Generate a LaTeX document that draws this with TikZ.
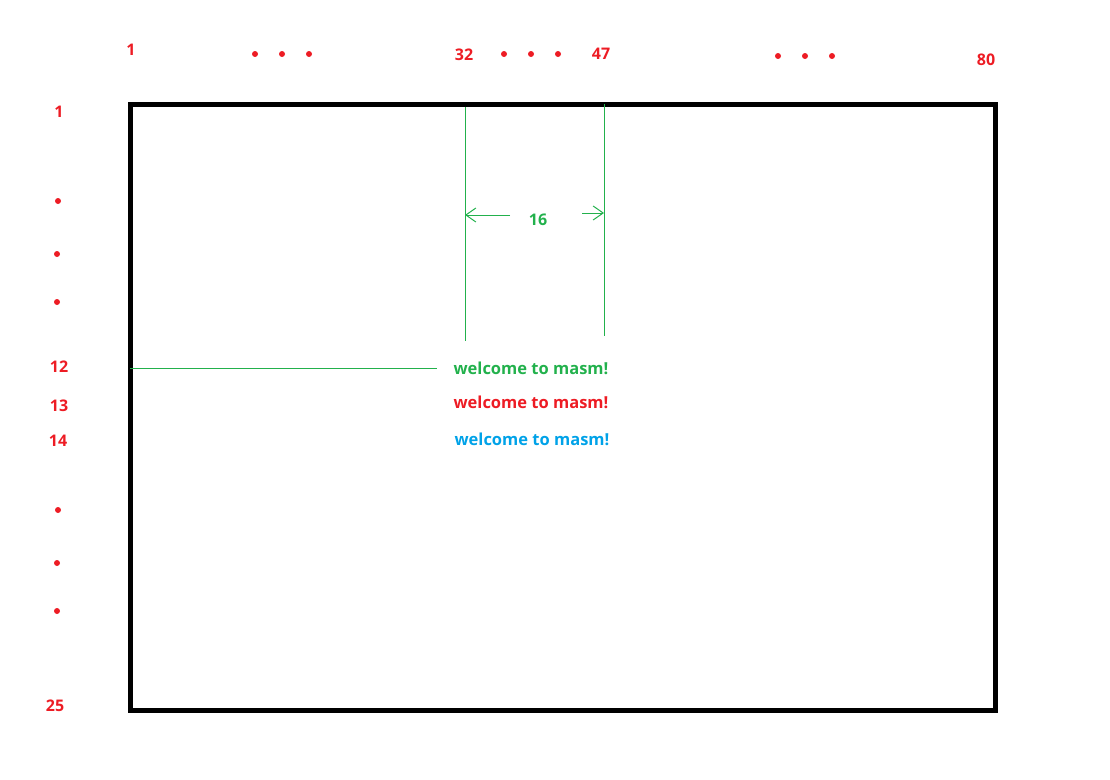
\documentclass[tikz,border=0pt]{standalone}
\usepackage{fontspec}
\setmainfont{Open Sans}
\usetikzlibrary{arrows.meta,positioning}
\definecolor{pred}{HTML}{ED1C24}
\definecolor{pgreen}{HTML}{22B14C}
\definecolor{pblue}{HTML}{00A2E8}
\tikzset{
  numlbl/.style={text=pred,font=\fontsize{16}{19}\selectfont\bfseries,inner sep=0pt},
  dotpt/.style={circle,fill=pred,inner sep=0pt,minimum size=6pt},
  msgtxt/.style={font=\fontsize{16.5}{20}\selectfont\bfseries,inner sep=0pt},
  guide/.style={draw=pgreen,line width=1pt},
  dimarr/.style={guide,-{Straight Barb[length=10pt,width=14pt]}},
  screen/.style={draw=black,line width=5pt},
}

\begin{document}
\begin{tikzpicture}[x=1pt,y=-1pt]
  \useasboundingbox (0,0) rectangle (1110,779);
  % screen frame
  \draw[screen] (130.5,104.5) rectangle (995.5,710);

  % column numbers
  \node[numlbl] (col1) at (131,50) {1};
  \node[dotpt] (cd1) at (255,54) {};
  \node[dotpt] (cd2) at (282,54) {};
  \node[dotpt] (cd3) at (309,54) {};
  \node[numlbl] (col32) at (464,55) {32};
  \node[dotpt] (cd4) at (504,54) {};
  \node[dotpt] (cd5) at (531,54) {};
  \node[dotpt] (cd6) at (558,54) {};
  \node[numlbl] (col47) at (601,54) {47};
  \node[dotpt] (cd7) at (778,56) {};
  \node[dotpt] (cd8) at (805,56) {};
  \node[dotpt] (cd9) at (832,56) {};
  \node[numlbl] (col80) at (986,60) {80};

  % row numbers
  \node[numlbl] (row1) at (59,112) {1};
  \node[dotpt] (rd1) at (58,201) {};
  \node[dotpt] (rd2) at (57,254) {};
  \node[dotpt] (rd3) at (57,302) {};
  \node[numlbl] (row12) at (59,367) {12};
  \node[numlbl] (row13) at (59,406) {13};
  \node[numlbl] (row14) at (58,441) {14};
  \node[dotpt] (rd4) at (58,510) {};
  \node[dotpt] (rd5) at (57,563) {};
  \node[dotpt] (rd6) at (57,611) {};
  \node[numlbl] (row25) at (55,706) {25};

  % the three lines of text
  \node[msgtxt,text=pgreen] (msg1) at (531,368) {welcome to masm!};
  \node[msgtxt,text=pred] (msg2) at (531,402) {welcome to masm!};
  \node[msgtxt,text=pblue] (msg3) at (532,439) {welcome to masm!};

  % guides
  \coordinate (lt) at (465,107);
  \coordinate (lb) at (465,341);
  \coordinate (rt) at (604,104);
  \coordinate (rb) at (604,336);
  \coordinate (ls) at (510,215);
  \coordinate (lh) at (465,215);
  \coordinate (rs) at (582,213);
  \coordinate (rh) at (604,213);
  \coordinate (hs) at (130,368);
  \coordinate (he) at (437,368);
  \node[text=pgreen,font=\fontsize{16}{19}\selectfont\bfseries,inner sep=0pt] (width) at (538,220) {16};

  \draw[guide] (lt) -- (lb);
  \draw[guide] (rt) -- (rb);
  \draw[dimarr] (ls) -- (lh);
  \draw[dimarr] (rs) -- (rh);
  \draw[guide] (hs) -- (he);
\end{tikzpicture}
\end{document}
